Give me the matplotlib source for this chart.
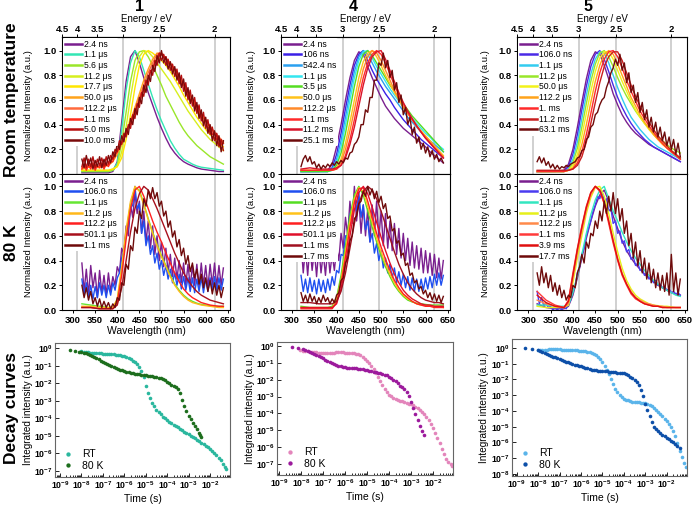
import numpy as np
import matplotlib
matplotlib.use("Agg")
import matplotlib.pyplot as plt
from matplotlib.ticker import FixedLocator, LogLocator, NullLocator, NullFormatter

plt.rcParams['font.family'] = ['Liberation Sans', 'DejaVu Sans']
plt.rcParams['font.weight'] = 'bold'
plt.rcParams['mathtext.default'] = 'regular'
plt.rcParams['axes.linewidth'] = 0.8

# wavelength grids (nm)
WL = [320, 340, 360, 380, 390, 400, 410, 420, 430, 440,
      450, 460, 470, 480, 490, 500, 510, 520, 530, 540,
      550, 560, 570, 580, 590, 600, 610, 620, 630, 640]
WLN = list(range(320, 645, 5))

# ---------------- compound 1, room temperature ----------------
p1rt_2p4ns = [0.01, 0.01, 0.01, 0.01, 0.02, 0.10, 0.42, 0.75, 0.95, 1.00,
              0.90, 0.78, 0.66, 0.56, 0.46, 0.37, 0.29, 0.22, 0.17, 0.13,
              0.10, 0.08, 0.065, 0.05, 0.04, 0.035, 0.03, 0.025, 0.02, 0.02]
p1rt_1p1us = [0.02, 0.02, 0.02, 0.02, 0.03, 0.09, 0.36, 0.68, 0.90, 1.00,
              0.95, 0.84, 0.73, 0.62, 0.52, 0.43, 0.35, 0.27, 0.21, 0.16,
              0.12, 0.10, 0.08, 0.065, 0.055, 0.05, 0.045, 0.04, 0.035, 0.03]
p1rt_5p6us = [0.02, 0.02, 0.02, 0.02, 0.03, 0.07, 0.26, 0.50, 0.75, 0.92,
              0.99, 1.00, 0.95, 0.88, 0.80, 0.72, 0.63, 0.56, 0.49, 0.42,
              0.36, 0.31, 0.27, 0.23, 0.20, 0.17, 0.14, 0.12, 0.10, 0.08]
p1rt_11p2us = [0.03, 0.03, 0.03, 0.03, 0.04, 0.06, 0.18, 0.38, 0.62, 0.83,
               0.95, 1.00, 0.99, 0.95, 0.90, 0.85, 0.80, 0.75, 0.69, 0.63,
               0.57, 0.51, 0.46, 0.41, 0.36, 0.32, 0.28, 0.25, 0.22, 0.19]
p1rt_17p7us = [0.03, 0.03, 0.03, 0.03, 0.04, 0.06, 0.13, 0.28, 0.48, 0.70,
               0.88, 0.97, 1.00, 0.98, 0.95, 0.92, 0.88, 0.83, 0.77, 0.71,
               0.64, 0.58, 0.52, 0.46, 0.41, 0.36, 0.32, 0.28, 0.25, 0.22]
p1rt_50us = [0.04, 0.06, 0.05, 0.07, 0.10, 0.16, 0.24, 0.33, 0.43, 0.54,
             0.65, 0.76, 0.85, 0.93, 0.98, 0.97, 0.93, 0.89, 0.84, 0.78,
             0.72, 0.66, 0.60, 0.54, 0.48, 0.43, 0.38, 0.33, 0.29, 0.25]
p1rt_112us = [0.05, 0.07, 0.06, 0.08, 0.12, 0.18, 0.25, 0.33, 0.42, 0.52,
              0.62, 0.72, 0.82, 0.90, 0.97, 0.98, 0.94, 0.90, 0.85, 0.79,
              0.73, 0.67, 0.61, 0.55, 0.49, 0.44, 0.39, 0.34, 0.30, 0.26]
p1rt_1p1ms = [0.04, 0.08, 0.03, 0.07, 0.04, 0.09, 0.03, 0.07, 0.05, 0.09, 0.04, 0.08, 0.06,
              0.10, 0.10, 0.16, 0.18, 0.24, 0.25, 0.31, 0.32, 0.38, 0.40, 0.46, 0.49, 0.55,
              0.58, 0.65, 0.68, 0.74, 0.77, 0.83, 0.85, 0.91, 0.93, 0.98, 0.97, 0.94, 0.95,
              0.89, 0.90, 0.84, 0.85, 0.78, 0.80, 0.72, 0.74, 0.66, 0.67, 0.60, 0.61, 0.54,
              0.55, 0.48, 0.49, 0.42, 0.43, 0.37, 0.38, 0.32, 0.33, 0.28, 0.29, 0.24, 0.25]
p1rt_5ms = [0.06, 0.13, 0.05, 0.12, 0.06, 0.14, 0.05, 0.12, 0.07, 0.13, 0.06, 0.14, 0.08,
            0.15, 0.12, 0.20, 0.18, 0.27, 0.24, 0.33, 0.30, 0.40, 0.37, 0.48, 0.45, 0.57,
            0.54, 0.66, 0.63, 0.76, 0.72, 0.84, 0.80, 0.92, 0.88, 0.98, 0.92, 0.97, 0.88,
            0.93, 0.84, 0.89, 0.79, 0.85, 0.73, 0.80, 0.67, 0.74, 0.60, 0.68, 0.55, 0.62,
            0.49, 0.56, 0.43, 0.50, 0.37, 0.44, 0.32, 0.38, 0.27, 0.33, 0.22, 0.28, 0.19]
p1rt_10ms = [0.12, 0.05, 0.15, 0.07, 0.13, 0.04, 0.11, 0.06, 0.14, 0.05, 0.12, 0.07, 0.15,
             0.09, 0.18, 0.14, 0.25, 0.20, 0.31, 0.26, 0.37, 0.32, 0.45, 0.40, 0.53, 0.48,
             0.62, 0.57, 0.72, 0.66, 0.80, 0.75, 0.88, 0.83, 0.96, 0.90, 1.00, 0.90, 0.95,
             0.85, 0.91, 0.81, 0.87, 0.76, 0.82, 0.70, 0.77, 0.63, 0.70, 0.57, 0.64, 0.51,
             0.58, 0.45, 0.52, 0.39, 0.46, 0.33, 0.40, 0.27, 0.35, 0.23, 0.31, 0.18, 0.27]

# ---------------- compound 1, 80 K ----------------
p1lt_2p4ns = [0.38, 0.15, 0.33, 0.12, 0.36, 0.18, 0.30, 0.10, 0.32, 0.14, 0.28, 0.12, 0.30,
              0.15, 0.27, 0.20, 0.35, 0.30, 0.50, 0.45, 0.68, 0.60, 0.85, 0.75, 0.95, 0.78,
              0.88, 0.62, 0.80, 0.55, 0.72, 0.50, 0.68, 0.45, 0.60, 0.40, 0.55, 0.35, 0.50,
              0.30, 0.45, 0.27, 0.42, 0.25, 0.40, 0.22, 0.38, 0.20, 0.37, 0.19, 0.36, 0.20,
              0.37, 0.18, 0.38, 0.20, 0.36, 0.18, 0.37, 0.20, 0.38, 0.19, 0.36, 0.20, 0.34]
p1lt_106ns = [0.25, 0.12, 0.22, 0.10, 0.20, 0.09, 0.19, 0.10, 0.22, 0.12, 0.20, 0.10, 0.20,
              0.12, 0.22, 0.16, 0.26, 0.30, 0.42, 0.48, 0.62, 0.66, 0.82, 0.85, 1.00, 0.82,
              0.86, 0.62, 0.72, 0.52, 0.60, 0.45, 0.52, 0.38, 0.46, 0.33, 0.40, 0.28, 0.36,
              0.25, 0.33, 0.22, 0.30, 0.20, 0.29, 0.17, 0.27, 0.16, 0.26, 0.15, 0.26, 0.14,
              0.25, 0.15, 0.26, 0.14, 0.25, 0.15, 0.26, 0.16, 0.27, 0.15, 0.26, 0.16, 0.25]
p1lt_1p1us = [0.05, 0.04, 0.03, 0.02, 0.02, 0.08, 0.32, 0.62, 0.86, 0.99,
              0.97, 0.86, 0.74, 0.63, 0.53, 0.44, 0.36, 0.28, 0.21, 0.16,
              0.12, 0.09, 0.07, 0.055, 0.045, 0.04, 0.035, 0.03, 0.03, 0.03]
p1lt_11p2us = [0.03, 0.03, 0.02, 0.02, 0.02, 0.09, 0.35, 0.65, 0.88, 1.00,
               0.96, 0.85, 0.73, 0.62, 0.52, 0.43, 0.35, 0.27, 0.20, 0.15,
               0.11, 0.08, 0.06, 0.05, 0.04, 0.035, 0.03, 0.025, 0.02, 0.02]
p1lt_112us = [0.02, 0.02, 0.01, 0.01, 0.01, 0.06, 0.28, 0.57, 0.82, 0.97,
              1.00, 0.92, 0.82, 0.72, 0.63, 0.55, 0.46, 0.38, 0.30, 0.23,
              0.17, 0.13, 0.10, 0.08, 0.06, 0.05, 0.04, 0.035, 0.03, 0.03]
p1lt_501us = [0.02, 0.02, 0.01, 0.01, 0.01, 0.04, 0.18, 0.40, 0.63, 0.82,
              0.94, 1.00, 0.97, 0.90, 0.82, 0.73, 0.64, 0.55, 0.46, 0.38,
              0.30, 0.24, 0.19, 0.15, 0.12, 0.10, 0.08, 0.07, 0.06, 0.05]
p1lt_1p1ms = [0.20, 0.10, 0.18, 0.08, 0.15, 0.05, 0.10, 0.03, 0.09, 0.02, 0.07, 0.02, 0.06,
              0.01, 0.05, 0.02, 0.10, 0.08, 0.22, 0.20, 0.37, 0.33, 0.52, 0.48, 0.67, 0.62,
              0.80, 0.74, 0.90, 0.84, 0.97, 0.90, 0.99, 0.90, 0.95, 0.84, 0.88, 0.76, 0.80,
              0.67, 0.72, 0.59, 0.64, 0.51, 0.57, 0.44, 0.50, 0.37, 0.44, 0.31, 0.38, 0.26,
              0.33, 0.21, 0.29, 0.18, 0.26, 0.15, 0.24, 0.13, 0.22, 0.12, 0.20, 0.10, 0.18]

# ---------------- compound 4, room temperature ----------------
p2rt_2p4ns = [0.02, 0.02, 0.02, 0.03, 0.08, 0.22, 0.40, 0.60, 0.78, 0.92,
              0.99, 0.97, 0.87, 0.78, 0.70, 0.62, 0.55, 0.50, 0.45, 0.41,
              0.37, 0.34, 0.31, 0.28, 0.25, 0.22, 0.18, 0.15, 0.12, 0.09]
p2rt_106ns = [0.02, 0.02, 0.02, 0.02, 0.05, 0.16, 0.33, 0.53, 0.72, 0.88,
              0.97, 1.00, 0.92, 0.84, 0.77, 0.71, 0.65, 0.60, 0.54, 0.49,
              0.44, 0.40, 0.36, 0.32, 0.28, 0.25, 0.22, 0.19, 0.16, 0.13]
p2rt_542ns = [0.02, 0.02, 0.02, 0.02, 0.04, 0.12, 0.27, 0.46, 0.66, 0.83,
              0.95, 1.00, 0.97, 0.90, 0.83, 0.77, 0.71, 0.66, 0.61, 0.56,
              0.51, 0.46, 0.42, 0.38, 0.34, 0.30, 0.27, 0.24, 0.21, 0.18]
p2rt_1p1us = [0.02, 0.02, 0.02, 0.02, 0.03, 0.09, 0.22, 0.40, 0.60, 0.78,
              0.92, 0.99, 1.00, 0.94, 0.87, 0.81, 0.75, 0.69, 0.64, 0.59,
              0.54, 0.49, 0.45, 0.41, 0.37, 0.33, 0.30, 0.26, 0.23, 0.20]
p2rt_3p5us = [0.02, 0.02, 0.02, 0.02, 0.03, 0.07, 0.17, 0.33, 0.52, 0.71,
              0.87, 0.97, 1.00, 0.96, 0.90, 0.84, 0.78, 0.72, 0.67, 0.62,
              0.57, 0.52, 0.47, 0.43, 0.39, 0.35, 0.31, 0.27, 0.23, 0.18]
p2rt_50us = [0.03, 0.03, 0.03, 0.03, 0.03, 0.05, 0.12, 0.25, 0.42, 0.60,
             0.78, 0.91, 0.98, 1.00, 0.95, 0.88, 0.80, 0.73, 0.66, 0.60,
             0.54, 0.49, 0.44, 0.39, 0.35, 0.31, 0.27, 0.23, 0.19, 0.15]
p2rt_112us = [0.03, 0.03, 0.03, 0.03, 0.03, 0.04, 0.09, 0.20, 0.35, 0.52,
              0.70, 0.85, 0.95, 1.00, 0.98, 0.92, 0.84, 0.76, 0.68, 0.61,
              0.55, 0.49, 0.44, 0.39, 0.34, 0.30, 0.26, 0.22, 0.18, 0.14]
p2rt_1p1ms = [0.03, 0.03, 0.03, 0.03, 0.03, 0.04, 0.07, 0.15, 0.28, 0.44,
              0.62, 0.78, 0.90, 0.97, 1.00, 0.97, 0.90, 0.81, 0.72, 0.64,
              0.57, 0.50, 0.44, 0.39, 0.34, 0.29, 0.25, 0.21, 0.17, 0.13]
p2rt_11p2ms = [0.04, 0.05, 0.04, 0.04, 0.04, 0.05, 0.07, 0.13, 0.24, 0.38,
               0.55, 0.72, 0.86, 0.95, 0.99, 1.00, 0.93, 0.84, 0.75, 0.66,
               0.58, 0.51, 0.45, 0.39, 0.34, 0.29, 0.25, 0.21, 0.17, 0.13]
p2rt_25ms = [0.06, 0.12, 0.15, 0.10, 0.14, 0.08, 0.10, 0.05, 0.08, 0.04, 0.07, 0.05, 0.08,
             0.06, 0.09, 0.07, 0.10, 0.08, 0.11, 0.09, 0.13, 0.12, 0.17, 0.18, 0.24, 0.26,
             0.30, 0.40, 0.40, 0.52, 0.50, 0.62, 0.62, 0.76, 0.76, 0.90, 0.88, 0.98, 0.86,
             0.92, 0.78, 0.84, 0.68, 0.74, 0.58, 0.64, 0.48, 0.54, 0.40, 0.46, 0.32, 0.38,
             0.25, 0.30, 0.20, 0.25, 0.17, 0.22, 0.14, 0.19, 0.12, 0.16, 0.10, 0.13, 0.09]

# ---------------- compound 4, 80 K ----------------
p2lt_2p4ns = [0.55, 0.30, 0.50, 0.28, 0.52, 0.32, 0.48, 0.27, 0.50, 0.30, 0.46, 0.28, 0.50,
              0.30, 0.45, 0.32, 0.50, 0.40, 0.62, 0.50, 0.75, 0.60, 0.88, 0.70, 1.00, 0.72,
              0.90, 0.62, 0.85, 0.60, 0.82, 0.55, 0.85, 0.60, 0.88, 0.58, 0.80, 0.52, 0.78,
              0.50, 0.72, 0.48, 0.70, 0.45, 0.66, 0.42, 0.62, 0.40, 0.58, 0.36, 0.55, 0.34,
              0.52, 0.33, 0.50, 0.30, 0.48, 0.30, 0.46, 0.28, 0.45, 0.26, 0.42, 0.25, 0.40]
p2lt_106ns = [0.28, 0.15, 0.25, 0.14, 0.26, 0.15, 0.24, 0.13, 0.25, 0.15, 0.24, 0.14, 0.25,
              0.16, 0.27, 0.20, 0.32, 0.30, 0.45, 0.44, 0.60, 0.60, 0.78, 0.74, 0.92, 0.80,
              0.95, 0.75, 0.85, 0.65, 0.72, 0.55, 0.62, 0.46, 0.54, 0.40, 0.48, 0.34, 0.42,
              0.30, 0.37, 0.26, 0.34, 0.22, 0.31, 0.20, 0.29, 0.18, 0.27, 0.16, 0.26, 0.15,
              0.25, 0.15, 0.25, 0.16, 0.26, 0.17, 0.27, 0.18, 0.29, 0.20, 0.30, 0.20, 0.28]
p2lt_1p1us = [0.03, 0.02, 0.02, 0.02, 0.03, 0.10, 0.28, 0.52, 0.76, 0.93,
              1.00, 0.93, 0.80, 0.67, 0.55, 0.44, 0.35, 0.27, 0.20, 0.15,
              0.11, 0.08, 0.065, 0.055, 0.05, 0.045, 0.04, 0.04, 0.04, 0.04]
p2lt_11p2us = [0.02, 0.02, 0.02, 0.02, 0.02, 0.08, 0.24, 0.47, 0.72, 0.90,
               0.99, 0.96, 0.84, 0.71, 0.58, 0.47, 0.37, 0.29, 0.22, 0.16,
               0.12, 0.09, 0.07, 0.05, 0.04, 0.035, 0.03, 0.03, 0.03, 0.02]
p2lt_112us = [0.01, 0.01, 0.01, 0.01, 0.01, 0.06, 0.21, 0.43, 0.67, 0.87,
              0.98, 0.99, 0.88, 0.75, 0.62, 0.51, 0.41, 0.32, 0.24, 0.18,
              0.13, 0.10, 0.07, 0.05, 0.04, 0.03, 0.03, 0.02, 0.02, 0.02]
p2lt_501us = [0.02, 0.02, 0.02, 0.02, 0.02, 0.05, 0.17, 0.37, 0.60, 0.81,
              0.95, 1.00, 0.94, 0.83, 0.71, 0.59, 0.48, 0.38, 0.29, 0.22,
              0.16, 0.12, 0.09, 0.07, 0.05, 0.04, 0.04, 0.03, 0.03, 0.03]
p2lt_1p1ms = [0.06, 0.06, 0.05, 0.05, 0.05, 0.07, 0.15, 0.30, 0.50, 0.70,
              0.86, 0.96, 1.00, 0.97, 0.90, 0.80, 0.69, 0.58, 0.47, 0.37,
              0.29, 0.22, 0.17, 0.13, 0.10, 0.08, 0.07, 0.06, 0.06, 0.05]
p2lt_1p7ms = [0.14, 0.07, 0.12, 0.06, 0.13, 0.07, 0.11, 0.05, 0.10, 0.06, 0.12, 0.07, 0.10,
              0.05, 0.09, 0.06, 0.12, 0.14, 0.24, 0.26, 0.38, 0.42, 0.56, 0.60, 0.74, 0.76,
              0.86, 0.88, 0.96, 0.92, 1.00, 0.93, 0.98, 0.90, 0.96, 0.87, 0.92, 0.82, 0.86,
              0.74, 0.76, 0.64, 0.66, 0.54, 0.56, 0.44, 0.46, 0.36, 0.38, 0.28, 0.30, 0.22,
              0.24, 0.17, 0.19, 0.13, 0.16, 0.10, 0.14, 0.08, 0.13, 0.07, 0.12, 0.06, 0.11]

# ---------------- compound 5, room temperature ----------------
p3rt_2p4ns = [0.02, 0.02, 0.02, 0.03, 0.08, 0.20, 0.38, 0.58, 0.77, 0.92,
              0.99, 0.97, 0.88, 0.77, 0.65, 0.56, 0.48, 0.42, 0.37, 0.33,
              0.30, 0.27, 0.24, 0.22, 0.20, 0.18, 0.16, 0.14, 0.12, 0.10]
p3rt_106ns = [0.02, 0.02, 0.02, 0.02, 0.06, 0.16, 0.32, 0.52, 0.71, 0.87,
              0.97, 1.00, 0.93, 0.83, 0.72, 0.62, 0.54, 0.47, 0.41, 0.36,
              0.32, 0.28, 0.25, 0.22, 0.20, 0.18, 0.16, 0.14, 0.12, 0.10]
p3rt_1p1us = [0.02, 0.02, 0.02, 0.02, 0.04, 0.12, 0.26, 0.45, 0.64, 0.81,
              0.93, 0.99, 0.98, 0.90, 0.80, 0.70, 0.61, 0.53, 0.46, 0.41,
              0.36, 0.32, 0.28, 0.25, 0.22, 0.20, 0.18, 0.16, 0.14, 0.12]
p3rt_11p2us = [0.02, 0.02, 0.02, 0.02, 0.03, 0.09, 0.21, 0.38, 0.57, 0.75,
               0.89, 0.98, 1.00, 0.95, 0.87, 0.78, 0.70, 0.63, 0.57, 0.51,
               0.46, 0.41, 0.37, 0.33, 0.30, 0.27, 0.24, 0.21, 0.19, 0.17]
p3rt_50us = [0.02, 0.02, 0.02, 0.02, 0.03, 0.07, 0.16, 0.31, 0.49, 0.67,
             0.83, 0.94, 0.99, 0.99, 0.93, 0.84, 0.75, 0.67, 0.59, 0.52,
             0.46, 0.41, 0.36, 0.32, 0.28, 0.25, 0.22, 0.19, 0.16, 0.13]
p3rt_112us = [0.02, 0.02, 0.02, 0.02, 0.03, 0.05, 0.12, 0.24, 0.40, 0.58,
              0.75, 0.88, 0.97, 1.00, 0.97, 0.89, 0.80, 0.71, 0.62, 0.55,
              0.48, 0.42, 0.37, 0.32, 0.28, 0.24, 0.21, 0.18, 0.15, 0.12]
p3rt_1ms = [0.02, 0.02, 0.02, 0.02, 0.03, 0.04, 0.09, 0.18, 0.32, 0.49,
            0.67, 0.82, 0.93, 0.99, 1.00, 0.95, 0.86, 0.76, 0.67, 0.59,
            0.51, 0.45, 0.39, 0.34, 0.29, 0.25, 0.21, 0.18, 0.15, 0.12]
p3rt_11p2ms = [0.03, 0.03, 0.03, 0.03, 0.03, 0.04, 0.07, 0.14, 0.26, 0.41,
               0.58, 0.74, 0.87, 0.95, 0.99, 0.99, 0.92, 0.82, 0.72, 0.63,
               0.55, 0.48, 0.42, 0.36, 0.31, 0.27, 0.23, 0.19, 0.16, 0.13]
p3rt_63ms = [0.10, 0.14, 0.09, 0.13, 0.07, 0.10, 0.05, 0.08, 0.04, 0.07, 0.04, 0.06, 0.05,
             0.07, 0.06, 0.08, 0.09, 0.10, 0.13, 0.14, 0.19, 0.20, 0.28, 0.30, 0.38, 0.40,
             0.48, 0.50, 0.56, 0.60, 0.62, 0.70, 0.75, 0.82, 0.86, 0.93, 0.88, 0.97, 0.84,
             0.90, 0.74, 0.82, 0.66, 0.72, 0.58, 0.66, 0.50, 0.58, 0.44, 0.52, 0.38, 0.46,
             0.34, 0.42, 0.30, 0.38, 0.27, 0.34, 0.23, 0.30, 0.20, 0.28, 0.16, 0.25, 0.14]

# ---------------- compound 5, 80 K ----------------
p3lt_2p4ns = [0.05, 0.02, 0.01, 0.01, 0.03, 0.12, 0.26, 0.42, 0.58, 0.72,
              0.84, 0.93, 0.97, 0.88, 0.76, 0.66, 0.56, 0.48, 0.42, 0.37,
              0.33, 0.29, 0.26, 0.23, 0.20, 0.18, 0.16, 0.14, 0.13, 0.12]
p3lt_106ns = [0.15, 0.05, 0.10, 0.03, 0.06, 0.02, 0.03, 0.00, 0.02, 0.00, 0.02, 0.00, 0.02,
              0.01, 0.05, 0.08, 0.15, 0.20, 0.30, 0.35, 0.45, 0.50, 0.60, 0.66, 0.72, 0.80,
              0.85, 0.92, 0.90, 0.96, 0.88, 0.90, 0.80, 0.82, 0.70, 0.72, 0.62, 0.64, 0.54,
              0.56, 0.47, 0.49, 0.41, 0.43, 0.36, 0.38, 0.32, 0.33, 0.28, 0.30, 0.25, 0.27,
              0.22, 0.24, 0.20, 0.21, 0.18, 0.19, 0.16, 0.17, 0.14, 0.15, 0.13, 0.14, 0.12]
p3lt_1p1us = [0.04, 0.04, 0.03, 0.03, 0.04, 0.14, 0.28, 0.45, 0.62, 0.77,
              0.89, 0.97, 1.00, 0.90, 0.80, 0.72, 0.63, 0.55, 0.48, 0.42,
              0.37, 0.32, 0.28, 0.24, 0.21, 0.18, 0.16, 0.14, 0.12, 0.11]
p3lt_11p2us = [0.03, 0.02, 0.02, 0.02, 0.04, 0.22, 0.42, 0.60, 0.78, 0.91,
               0.99, 1.00, 0.92, 0.78, 0.62, 0.47, 0.34, 0.24, 0.17, 0.12,
               0.09, 0.07, 0.05, 0.04, 0.035, 0.03, 0.03, 0.025, 0.02, 0.02]
p3lt_112us = [0.08, 0.05, 0.03, 0.02, 0.05, 0.26, 0.46, 0.64, 0.81, 0.93,
              1.00, 0.97, 0.86, 0.72, 0.56, 0.42, 0.30, 0.21, 0.15, 0.10,
              0.08, 0.06, 0.05, 0.04, 0.03, 0.03, 0.02, 0.02, 0.02, 0.02]
p3lt_1p1ms = [0.15, 0.08, 0.04, 0.02, 0.08, 0.30, 0.50, 0.68, 0.84, 0.95,
              1.00, 0.96, 0.86, 0.70, 0.54, 0.40, 0.28, 0.20, 0.13, 0.09,
              0.07, 0.05, 0.04, 0.03, 0.03, 0.02, 0.02, 0.02, 0.02, 0.02]
p3lt_3p9ms = [0.12, 0.06, 0.03, 0.02, 0.07, 0.28, 0.49, 0.67, 0.83, 0.95,
              1.00, 0.97, 0.87, 0.72, 0.56, 0.41, 0.29, 0.21, 0.14, 0.10,
              0.07, 0.05, 0.04, 0.03, 0.03, 0.02, 0.02, 0.02, 0.02, 0.02]
p3lt_17ms = [0.30, 0.20, 0.35, 0.22, 0.30, 0.18, 0.28, 0.15, 0.22, 0.12, 0.20, 0.10, 0.16,
             0.08, 0.12, 0.10, 0.20, 0.18, 0.30, 0.35, 0.45, 0.38, 0.55, 0.50, 0.62, 0.60,
             0.72, 0.66, 0.80, 0.72, 0.88, 0.78, 0.92, 0.80, 0.95, 0.78, 0.90, 0.72, 0.82,
             0.62, 0.72, 0.52, 0.62, 0.42, 0.55, 0.36, 0.48, 0.30, 0.42, 0.25, 0.38, 0.22,
             0.33, 0.18, 0.30, 0.16, 0.28, 0.15, 0.30, 0.12, 0.45, 0.15, 0.30, 0.12, 0.25]

# ---------------- decay curves: log10(time / s), log10(intensity) ----------------
d1_rt_t = [-8.0, -7.9, -7.8, -7.7, -7.6, -7.5, -7.4, -7.3, -7.2, -7.1,
           -7.0, -6.9, -6.8, -6.7, -6.6, -6.5, -6.4, -6.3, -6.2, -6.1,
           -6.0, -5.9, -5.8, -5.7, -5.6, -5.5, -5.4, -5.3, -5.2, -5.1,
           -5.0, -4.9, -4.8, -4.7, -4.6, -4.5, -4.4, -4.3, -4.2, -4.1,
           -4.0, -3.9, -3.8, -3.7, -3.6, -3.5, -3.4, -3.3, -3.2, -3.1,
           -3.0, -2.9, -2.8, -2.7, -2.6, -2.5, -2.4, -2.3, -2.2, -2.1,
           -2.0, -1.9, -1.8, -1.7, -1.6, -1.5, -1.4, -1.3, -1.25]
d1_rt_i = [-0.18, -0.20, -0.22, -0.24, -0.25, -0.26, -0.26, -0.27, -0.28, -0.28,
           -0.30, -0.31, -0.32, -0.33, -0.34, -0.35, -0.36, -0.38, -0.40, -0.43,
           -0.46, -0.50, -0.56, -0.63, -0.71, -0.80, -0.90, -1.05, -1.30, -1.65,
           -2.15, -2.55, -2.85, -3.10, -3.30, -3.50, -3.65, -3.78, -3.90, -4.00,
           -4.10, -4.20, -4.28, -4.36, -4.44, -4.52, -4.60, -4.68, -4.77, -4.85,
           -4.92, -5.00, -5.08, -5.15, -5.23, -5.31, -5.40, -5.48, -5.56, -5.65,
           -5.75, -5.85, -5.97, -6.10, -6.25, -6.40, -6.58, -6.78, -6.90]
d1_lt_t = [-8.55, -8.3, -8.1, -8.0, -7.9, -7.8, -7.7, -7.6, -7.5, -7.4,
           -7.3, -7.2, -7.1, -7.0, -6.9, -6.8, -6.7, -6.6, -6.5, -6.4,
           -6.3, -6.2, -6.1, -6.0, -5.9, -5.8, -5.7, -5.6, -5.5, -5.4,
           -5.3, -5.2, -5.1, -5.0, -4.9, -4.8, -4.7, -4.6, -4.5, -4.4,
           -4.3, -4.2, -4.1, -4.0, -3.9, -3.8, -3.7, -3.6, -3.5, -3.4,
           -3.3, -3.2, -3.1, -3.0, -2.9, -2.8, -2.7, -2.6, -2.5, -2.45, -2.4]
d1_lt_i = [-0.10, -0.16, -0.20, -0.22, -0.25, -0.28, -0.32, -0.37, -0.42, -0.48,
           -0.55, -0.62, -0.70, -0.77, -0.84, -0.90, -0.96, -1.02, -1.07, -1.12,
           -1.17, -1.22, -1.26, -1.30, -1.34, -1.37, -1.40, -1.43, -1.45, -1.47,
           -1.49, -1.50, -1.52, -1.54, -1.56, -1.58, -1.60, -1.62, -1.64, -1.67,
           -1.71, -1.76, -1.82, -1.90, -1.98, -2.08, -2.18, -2.24, -2.32, -2.55,
           -2.95, -3.30, -3.60, -3.85, -4.05, -4.25, -4.45, -4.62, -4.85, -4.98, -5.08]

d2_rt_t = [-8.05, -7.9, -7.8, -7.7, -7.6, -7.5, -7.4, -7.3, -7.2, -7.1,
           -7.0, -6.9, -6.8, -6.7, -6.6, -6.5, -6.4, -6.3, -6.2, -6.1,
           -6.0, -5.9, -5.8, -5.7, -5.6, -5.5, -5.4, -5.3, -5.2, -5.1,
           -5.0, -4.9, -4.8, -4.7, -4.6, -4.5, -4.4, -4.3, -4.2, -4.1,
           -4.0, -3.9, -3.8, -3.7, -3.6, -3.5, -3.4, -3.3, -3.2, -3.1,
           -3.0, -2.9, -2.8, -2.7, -2.6, -2.5, -2.4, -2.3, -2.2, -2.1,
           -2.0, -1.9, -1.8, -1.7, -1.6, -1.5, -1.4, -1.3, -1.2, -1.12]
d2_rt_i = [-0.24, -0.28, -0.30, -0.32, -0.33, -0.34, -0.35, -0.37, -0.39, -0.41,
           -0.42, -0.43, -0.43, -0.43, -0.42, -0.40, -0.38, -0.37, -0.37, -0.38,
           -0.39, -0.40, -0.41, -0.42, -0.43, -0.45, -0.50, -0.56, -0.65, -0.76,
           -0.88, -1.02, -1.18, -1.37, -1.58, -1.82, -2.07, -2.32, -2.55, -2.74,
           -2.88, -2.98, -3.06, -3.13, -3.19, -3.24, -3.28, -3.32, -3.36, -3.41,
           -3.46, -3.52, -3.59, -3.67, -3.77, -3.89, -4.03, -4.20, -4.40, -4.62,
           -4.87, -5.15, -5.45, -5.78, -6.10, -6.42, -6.70, -6.88, -7.00, -7.10]
d2_lt_t = [-8.42, -8.12, -7.9, -7.8, -7.7, -7.6, -7.5, -7.4, -7.3, -7.2,
           -7.1, -7.0, -6.9, -6.8, -6.7, -6.6, -6.5, -6.4, -6.3, -6.2,
           -6.1, -6.0, -5.9, -5.8, -5.7, -5.6, -5.5, -5.4, -5.3, -5.2,
           -5.1, -5.0, -4.9, -4.8, -4.7, -4.6, -4.5, -4.4, -4.3, -4.2,
           -4.1, -4.0, -3.9, -3.8, -3.7, -3.6, -3.5, -3.4, -3.3, -3.2,
           -3.1, -3.0, -2.9, -2.8, -2.7, -2.6, -2.5, -2.42]
d2_lt_i = [-0.04, -0.14, -0.20, -0.26, -0.32, -0.38, -0.44, -0.50, -0.56, -0.61,
           -0.67, -0.73, -0.80, -0.87, -0.94, -1.00, -1.06, -1.11, -1.16, -1.20,
           -1.23, -1.26, -1.28, -1.30, -1.31, -1.32, -1.33, -1.35, -1.37, -1.39,
           -1.42, -1.45, -1.47, -1.50, -1.52, -1.55, -1.58, -1.62, -1.66, -1.70,
           -1.74, -1.82, -1.90, -2.00, -2.10, -2.22, -2.36, -2.45, -2.55, -2.72,
           -2.98, -3.30, -3.70, -4.05, -4.40, -4.75, -5.05, -5.27]

d3_rt_t = [-7.99, -7.9, -7.8, -7.7, -7.6, -7.5, -7.4, -7.3, -7.2, -7.1,
           -7.0, -6.9, -6.8, -6.7, -6.6, -6.5, -6.4, -6.3, -6.2, -6.1,
           -6.0, -5.9, -5.8, -5.7, -5.6, -5.5, -5.4, -5.3, -5.2, -5.1,
           -5.0, -4.9, -4.8, -4.7, -4.6, -4.5, -4.4, -4.3, -4.2, -4.1,
           -4.0, -3.9, -3.8, -3.7, -3.6, -3.5, -3.4, -3.3, -3.2, -3.1,
           -3.0, -2.9, -2.8, -2.7, -2.6, -2.5, -2.4, -2.3, -2.2, -2.1,
           -2.0, -1.9, -1.8, -1.7, -1.6, -1.5, -1.4, -1.3, -1.2, -1.1]
d3_rt_i = [-0.13, -0.12, -0.11, -0.10, -0.10, -0.09, -0.09, -0.09, -0.09, -0.09,
           -0.09, -0.10, -0.10, -0.11, -0.12, -0.13, -0.14, -0.15, -0.16, -0.17,
           -0.18, -0.19, -0.21, -0.24, -0.27, -0.31, -0.36, -0.44, -0.56, -0.72,
           -0.92, -1.15, -1.40, -1.68, -1.98, -2.28, -2.58, -2.82, -3.00, -3.12,
           -3.22, -3.28, -3.33, -3.37, -3.40, -3.42, -3.44, -3.46, -3.48, -3.50,
           -3.52, -3.56, -3.62, -3.70, -3.80, -3.92, -4.05, -4.20, -4.35, -4.50,
           -4.65, -4.85, -5.05, -5.30, -5.60, -6.05, -6.55, -6.95, -7.30, -7.55]
d3_lt_t = [-8.61, -8.3, -8.0, -7.9, -7.8, -7.7, -7.6, -7.5, -7.4, -7.3,
           -7.2, -7.1, -7.0, -6.9, -6.8, -6.7, -6.6, -6.5, -6.4, -6.3,
           -6.2, -6.1, -6.0, -5.9, -5.8, -5.7, -5.6, -5.5, -5.4, -5.3,
           -5.2, -5.1, -5.0, -4.9, -4.8, -4.7, -4.6, -4.5, -4.4, -4.3,
           -4.2, -4.1, -4.0, -3.9, -3.8, -3.7, -3.6, -3.5, -3.4, -3.3,
           -3.2, -3.1, -3.0, -2.9, -2.8, -2.7, -2.6, -2.5, -2.4, -2.3,
           -2.2, -2.1, -2.0, -1.9, -1.8, -1.7, -1.6, -1.5, -1.4]
d3_lt_i = [-0.02, -0.08, -0.15, -0.18, -0.24, -0.30, -0.37, -0.43, -0.49, -0.55,
           -0.60, -0.65, -0.70, -0.75, -0.80, -0.86, -0.91, -0.96, -1.01, -1.05,
           -1.09, -1.13, -1.16, -1.20, -1.25, -1.30, -1.35, -1.38, -1.40, -1.42,
           -1.44, -1.46, -1.47, -1.48, -1.49, -1.50, -1.51, -1.53, -1.55, -1.57,
           -1.59, -1.60, -1.62, -1.67, -1.74, -1.82, -1.90, -2.02, -2.18, -2.36,
           -2.65, -3.05, -3.55, -3.95, -4.35, -4.70, -5.02, -5.15, -5.28, -5.40,
           -5.50, -5.60, -5.70, -5.80, -5.90, -5.98, -6.10, -6.22, -6.35]

PURPLE = '#7a1f8f'
MAROON = '#6e0a0a'

panel_1_rt = [('2.4 ns', PURPLE, WL, p1rt_2p4ns), ('1.1 μs', '#33e6b4', WL, p1rt_1p1us),
              ('5.6 μs', '#9ae62a', WL, p1rt_5p6us), ('11.2 μs', '#d6ef1e', WL, p1rt_11p2us),
              ('17.7 μs', '#ffe600', WL, p1rt_17p7us), ('50.0 μs', '#ffa31a', WL, p1rt_50us),
              ('112.2 μs', '#ff6a3d', WL, p1rt_112us), ('1.1 ms', '#ff2a1a', WLN, p1rt_1p1ms),
              ('5.0 ms', '#b80f0f', WLN, p1rt_5ms), ('10.0 ms', '#7a0a0a', WLN, p1rt_10ms)]
panel_1_lt = [('2.4 ns', PURPLE, WLN, p1lt_2p4ns), ('106.0 ns', '#1f4ff0', WLN, p1lt_106ns),
              ('1.1 μs', '#66e633', WL, p1lt_1p1us), ('11.2 μs', '#ffb81a', WL, p1lt_11p2us),
              ('112.2 μs', '#ff2020', WL, p1lt_112us), ('501.1 μs', '#a8101c', WL, p1lt_501us),
              ('1.1 ms', MAROON, WLN, p1lt_1p1ms)]
panel_2_rt = [('2.4 ns', PURPLE, WL, p2rt_2p4ns), ('106 ns', '#3a20e6', WL, p2rt_106ns),
              ('542.4 ns', '#2aa0f0', WL, p2rt_542ns), ('1.1 μs', '#33e6f0', WL, p2rt_1p1us),
              ('3.5 μs', '#55dd22', WL, p2rt_3p5us), ('50.0 μs', '#ffc21a', WL, p2rt_50us),
              ('112.2 μs', '#ff8a2a', WL, p2rt_112us), ('1.1 ms', '#ff2a2a', WL, p2rt_1p1ms),
              ('11.2 ms', '#d8142a', WL, p2rt_11p2ms), ('25.1 ms', MAROON, WLN, p2rt_25ms)]
panel_2_lt = [('2.4 ns', PURPLE, WLN, p2lt_2p4ns), ('106.0 ns', '#1f4ff0', WLN, p2lt_106ns),
              ('1.1 μs', '#55dd22', WL, p2lt_1p1us), ('11.2 μs', '#ffc21a', WL, p2lt_11p2us),
              ('112.2 μs', '#ff2020', WL, p2lt_112us), ('501.1 μs', '#e0102a', WL, p2lt_501us),
              ('1.1 ms', '#a01020', WL, p2lt_1p1ms), ('1.7 ms', MAROON, WLN, p2lt_1p7ms)]
panel_3_rt = [('2.4 ns', PURPLE, WL, p3rt_2p4ns), ('106.0 ns', '#4a2ae6', WL, p3rt_106ns),
              ('1.1 μs', '#33ccf0', WL, p3rt_1p1us), ('11.2 μs', '#99e62a', WL, p3rt_11p2us),
              ('50.0 μs', '#f2f21a', WL, p3rt_50us), ('112.2 μs', '#ffa31a', WL, p3rt_112us),
              ('1. ms', '#ff2a2a', WL, p3rt_1ms), ('11.2 ms', '#c81e1e', WL, p3rt_11p2ms),
              ('63.1 ms', MAROON, WLN, p3rt_63ms)]
panel_3_lt = [('2.4 ns', PURPLE, WL, p3lt_2p4ns), ('106.0 ns', '#4a3cf0', WLN, p3lt_106ns),
              ('1.1 μs', '#33e6c0', WL, p3lt_1p1us), ('11.2 μs', '#e6f01a', WL, p3lt_11p2us),
              ('112.2 μs', '#ff8a4a', WL, p3lt_112us), ('1.1 ms', '#ff3a3a', WL, p3lt_1p1ms),
              ('3.9 ms', '#e01010', WL, p3lt_3p9ms), ('17.7 ms', MAROON, WLN, p3lt_17ms)]

EV_TICKS = [4.5, 4, 3.5, 3, 2.5, 2]
EV_LINES = [4, 3, 2.5, 2]

W, H = 696, 508
fig = plt.figure(figsize=(W / 100, H / 100), dpi=100)


def rect(x0, y0, x1, y1):
    return [x0 / W, 1 - y1 / H, (x1 - x0) / W, (y1 - y0) / H]


def nm2ev(x):
    with np.errstate(divide='ignore'):
        return 1240.0 / np.asarray(x, dtype=float)


def spectrum(r, curves, top, ylab_x):
    ax = fig.add_axes(r)
    for ev in EV_LINES:
        ax.axvline(1240 / ev, color='#c8c8c8', lw=1.2, zorder=0)
    for lab, col, x, y in curves:
        ax.plot(x, y, color=col, lw=1.0, label=lab)
    ax.set_xlim(275, 655)
    ax.set_ylim(0, 1.11 if top else 1.1)
    ax.set_xticks(range(300, 651, 50))
    ax.set_yticks([0, 0.2, 0.4, 0.6, 0.8, 1.0])
    ax.set_yticklabels(['0.0', '0.2', '0.4', '0.6', '0.8', '1.0'])
    ax.tick_params(direction='out', length=2.5, width=0.7, pad=1.5, labelsize=6.8)
    ax.set_ylabel('Normalized Intensity (a.u.)', fontsize=6.8, fontweight='normal')
    ax.yaxis.set_label_coords(ylab_x, 0.5)
    if top:
        ax.tick_params(labelbottom=False)
        sec = ax.secondary_xaxis('top', functions=(nm2ev, nm2ev))
        sec.set_xticks(EV_TICKS)
        sec.set_xticklabels(['4.5', '4', '3.5', '3', '2.5', '2'])
        sec.tick_params(direction='out', length=2, width=0.7, pad=0.5, labelsize=6.8)
        sec.set_xlabel('Energy / eV', fontsize=7.0, labelpad=1.5)
    else:
        ax.set_xlabel('Wavelength (nm)', fontsize=7.5, labelpad=1)
    leg = ax.legend(loc='upper left', prop={'size': 6.2, 'weight': 'normal'},
                    frameon=True, framealpha=1, edgecolor='none', facecolor='white',
                    borderpad=0.15, labelspacing=0.2, handlelength=2.0,
                    handletextpad=0.3, borderaxespad=0.15)
    for h in leg.legend_handles:
        h.set_linewidth(1.8)
    leg.set_zorder(5)
    return ax


def decay(r, rt, lt, c_rt, c_lt, xlim, ylim, ymin, ylab_x):
    ax = fig.add_axes(r)
    ax.set_xscale('log')
    ax.set_yscale('log')
    ax.plot(10 ** np.array(rt[0]), 10 ** np.array(rt[1]), 'o', ms=2.6, mew=0,
            color=c_rt, label='RT')
    ax.plot(10 ** np.array(lt[0]), 10 ** np.array(lt[1]), 'o', ms=2.6, mew=0,
            color=c_lt, label='80 K')
    ax.set_xlim(10 ** xlim[0], 10 ** xlim[1])
    ax.set_ylim(10 ** ylim[0], 10 ** ylim[1])
    ax.xaxis.set_major_locator(FixedLocator([10.0 ** k for k in range(-9, -1)]))
    ax.xaxis.set_minor_locator(LogLocator(base=10, subs=np.arange(2, 10), numticks=100))
    ax.xaxis.set_minor_formatter(NullFormatter())
    ax.yaxis.set_major_locator(FixedLocator([10.0 ** k for k in range(0, ymin - 1, -1)]))
    ax.yaxis.set_minor_locator(NullLocator())
    ax.tick_params(which='both', direction='in', width=0.6, pad=1.5, labelsize=6.3)
    ax.tick_params(which='major', length=3)
    ax.tick_params(which='minor', length=1.8)
    for s in ax.spines.values():
        s.set_color('#666666')
    ax.set_xlabel('Time (s)', fontsize=7.5, labelpad=2)
    ax.set_ylabel('Integrated intensity (a.u.)', fontsize=7.2)
    ax.yaxis.set_label_coords(ylab_x, 0.5)
    ax.legend(loc='lower left', prop={'size': 7.5, 'weight': 'normal'}, frameon=False,
              markerscale=1.2, handletextpad=0.8, labelspacing=0.15, handlelength=1.2,
              borderaxespad=0.2)
    return ax


# spectra rows
spectrum(rect(62, 37, 230, 174), panel_1_rt, True, -0.17)
spectrum(rect(62, 174, 230, 310), panel_1_lt, False, -0.17)
spectrum(rect(281, 37, 450, 174), panel_2_rt, True, -0.145)
spectrum(rect(281, 174, 450, 310), panel_2_lt, False, -0.145)
spectrum(rect(517, 37, 687, 174), panel_3_rt, True, -0.16)
spectrum(rect(517, 174, 687, 310), panel_3_lt, False, -0.16)

# decay row
decay(rect(55, 343, 230, 477), (d1_rt_t, d1_rt_i), (d1_lt_t, d1_lt_i), '#2ab79e', '#1d6e1d',
      (-9.23, -1.07), (-7.35, 0.3), -7, -0.125)
decay(rect(277, 342, 453, 475), (d2_rt_t, d2_rt_i), (d2_lt_t, d2_lt_i), '#e385bb', '#9c1a9c',
      (-9.09, -1.09), (-7.65, 0.24), -7, -0.125)
decay(rect(512, 339, 687, 476), (d3_rt_t, d3_rt_i), (d3_lt_t, d3_lt_i), '#5ab4ea', '#0d4fa8',
      (-9.22, -1.05), (-8.13, 0.57), -8, -0.13)

# column titles and row labels
for x, t in [(140, '1'), (353, '4'), (588, '5')]:
    fig.text(x / W, 1 - 6.5 / H, t, ha='center', va='center', fontsize=11.5, fontweight='bold')
for y, t in [(100, 'Room temperature'), (243, '80 K'), (408, 'Decay curves')]:
    fig.text(12 / W, 1 - y / H, t, rotation=90, ha='center', va='center',
             fontsize=12.5, fontweight='bold')

fig.savefig('out.png', dpi=100)
